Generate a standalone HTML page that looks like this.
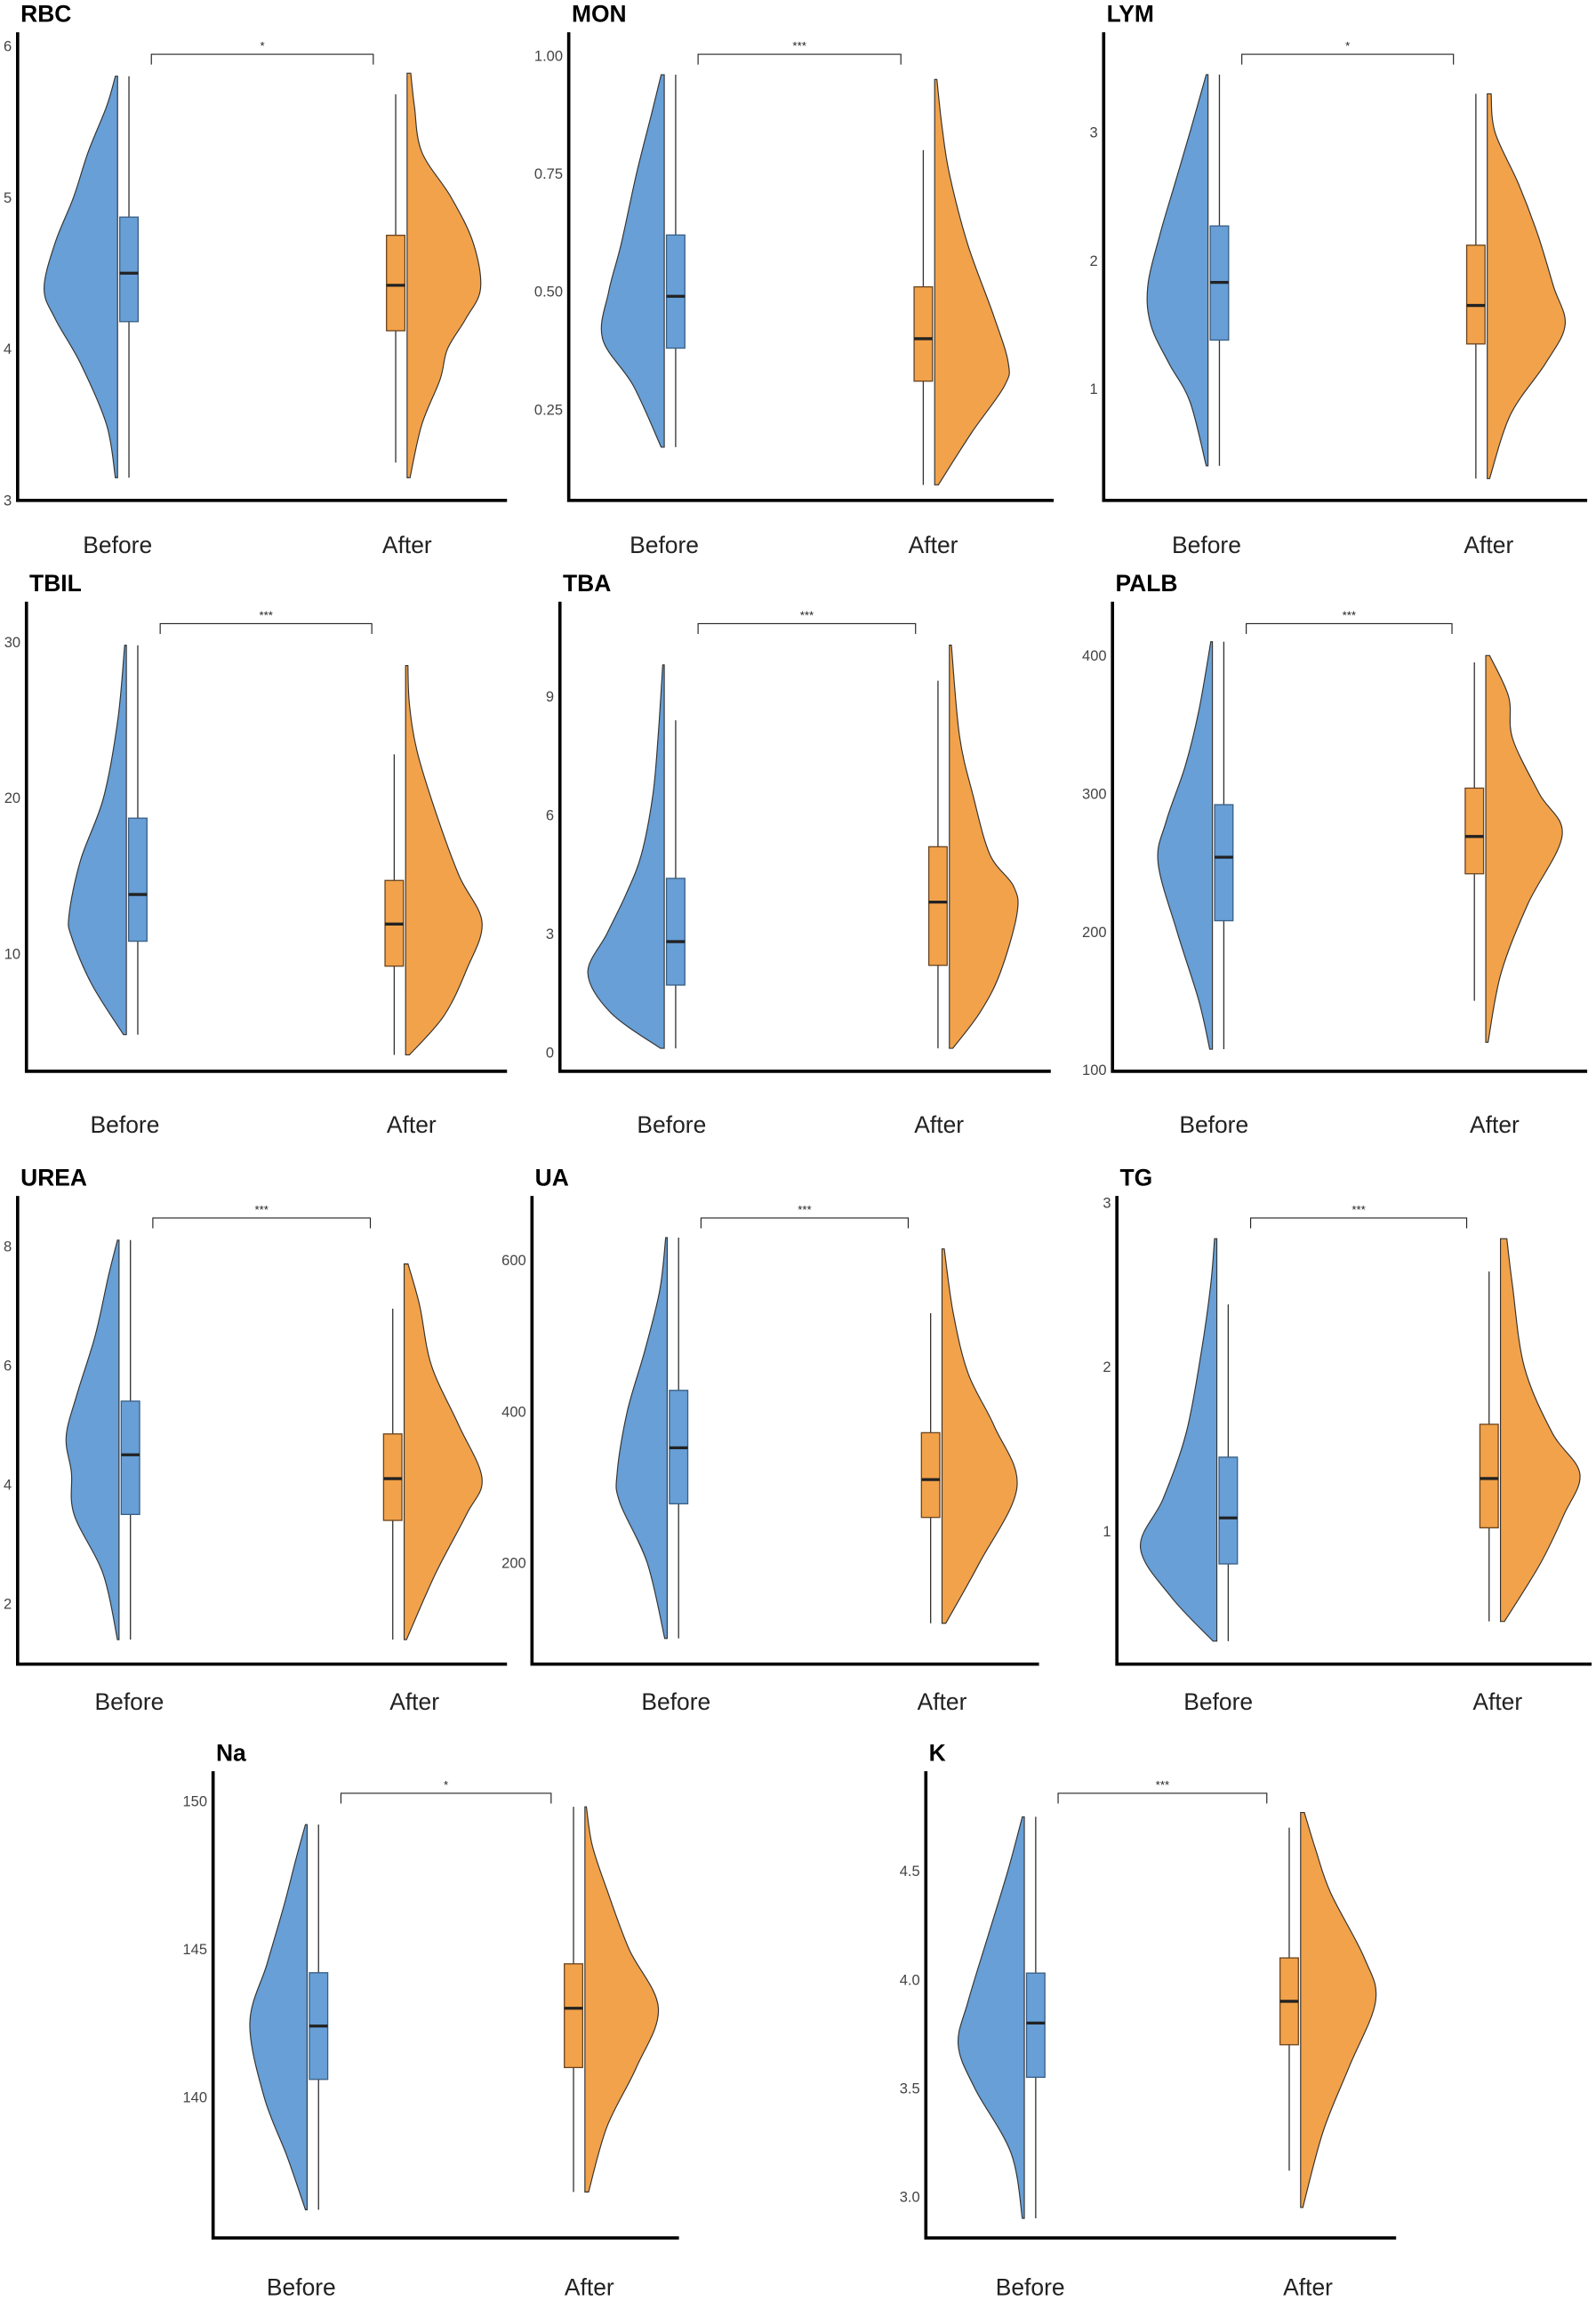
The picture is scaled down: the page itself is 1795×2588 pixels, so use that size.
<!DOCTYPE html>
<html><head><meta charset="utf-8"><style>
html,body{margin:0;padding:0;background:#fff}
svg{display:block;font-family:"Liberation Sans",Arial,sans-serif}
</style></head><body>
<svg id="chart" width="1795" height="2588" viewBox="0 0 1086 1568" preserveAspectRatio="none" xmlns="http://www.w3.org/2000/svg"></svg>
<script>
const titles = ["RBC","MON","LYM","TBIL","TBA","PALB","UREA","UA","TG","Na","K"];
const stars = ["*","***","*","***","***","***","***","***","***","*","***"];
const categories = ["Before","After"];
const domains = [[3,6.09],[0.057,1.05],[0.13,3.78],[2.45,32.6],[-0.48,11.4],[99,439],[0.99,8.84],[66,685],[0.19,3.04],[135.25,151],[2.81,4.96]];
const ticks = [[3,4,5,6],[0.25,0.5,0.75,1.0],[1,2,3],[10,20,30],[0,3,6,9],[100,200,300,400],[2,4,6,8],[200,400,600],[1,2,3],[140,145,150],[3.0,3.5,4.0,4.5]];
const tickLabels = [["3","4","5","6"],["0.25","0.50","0.75","1.00"],["1","2","3"],["10","20","30"],["0","3","6","9"],["100","200","300","400"],["2","4","6","8"],["200","400","600"],["1","2","3"],["140","145","150"],["3.0","3.5","4.0","4.5"]];
// box stats: [whiskerLo, q1, median, q3, whiskerHi]
const boxBefore = [[3.15,4.18,4.5,4.87,5.8],[0.17,0.38,0.49,0.62,0.96],[0.4,1.38,1.83,2.27,3.45],[4.8,10.8,13.8,18.7,29.8],[0.1,1.7,2.8,4.4,8.4],[115,208,254,292,410],[1.4,3.5,4.5,5.4,8.1],[100,278,352,428,630],[0.33,0.8,1.08,1.45,2.38],[136.2,140.6,142.4,144.2,149.2],[2.9,3.55,3.8,4.03,4.75]];
const boxAfter = [[3.25,4.12,4.42,4.75,5.68],[0.09,0.31,0.40,0.51,0.80],[0.3,1.35,1.65,2.12,3.3],[3.5,9.2,11.9,14.7,22.8],[0.1,2.2,3.8,5.2,9.4],[150,242,269,304,395],[1.4,3.4,4.1,4.85,6.95],[120,260,310,372,530],[0.45,1.02,1.32,1.65,2.58],[136.8,141,143,144.5,149.8],[3.12,3.7,3.9,4.1,4.7]];
// density profiles: [value, relative width]
const densBefore = [
 [[3.15,.03],[3.5,.15],[3.9,.5],[4.2,.85],[4.4,1],[4.7,.85],[5.0,.6],[5.3,.4],[5.6,.15],[5.8,.03]],
 [[0.17,.05],[0.3,.5],[0.4,1],[0.5,.9],[0.6,.7],[0.75,.45],[0.88,.2],[0.96,.05]],
 [[0.4,.03],[0.9,.3],[1.2,.65],[1.5,.95],[1.8,1],[2.2,.8],[2.6,.55],[3.0,.3],[3.45,.03]],
 [[4.8,.05],[8,.6],[11,.95],[12.5,1],[16,.8],[20,.4],[25,.15],[29.8,.03]],
 [[0.1,.05],[1,.7],[2,1],[3,.75],[4,.5],[5,.3],[6.5,.15],[8,.08],[9.8,.02]],
 [[115,.05],[150,.25],[200,.65],[250,1],[280,.85],[320,.5],[360,.25],[410,.03]],
 [[1.4,.03],[2.5,.3],[3.5,.85],[4.2,.9],[4.8,1],[5.5,.8],[6.5,.45],[7.5,.2],[8.1,.03]],
 [[100,.05],[200,.4],[280,.95],[320,1],[400,.8],[480,.45],[560,.15],[630,.03]],
 [[0.33,.05],[0.6,.6],[0.9,1],[1.2,.7],[1.6,.4],[2.1,.2],[2.5,.08],[2.78,.03]],
 [[136.2,.03],[138,.35],[140,.75],[142.5,1],[144.5,.7],[146.5,.4],[148,.2],[149.2,.03]],
 [[2.9,.03],[3.2,.2],[3.5,.75],[3.7,1],[3.9,.85],[4.2,.55],[4.5,.25],[4.75,.03]]
];
const densAfter = [
 [[3.15,.04],[3.5,.2],[3.8,.45],[4.0,.55],[4.2,.8],[4.4,1],[4.7,.9],[5.0,.6],[5.3,.2],[5.6,.1],[5.82,.05]],
 [[0.09,.05],[0.2,.5],[0.3,.95],[0.35,1],[0.45,.8],[0.6,.45],[0.75,.2],[0.85,.1],[0.95,.03]],
 [[0.3,.03],[0.8,.3],[1.2,.75],[1.5,1],[1.8,.85],[2.2,.65],[2.6,.4],[3.0,.1],[3.3,.05]],
 [[3.5,.05],[6,.5],[9,.8],[12,1],[15,.7],[19,.4],[23,.15],[26,.05],[28.5,.03]],
 [[0.1,.05],[1,.45],[2,.75],[3.5,1],[4.2,.95],[5,.6],[6.5,.35],[8,.15],[10.3,.03]],
 [[120,.03],[170,.2],[220,.55],[270,1],[300,.7],[340,.35],[370,.3],[400,.05]],
 [[1.4,.03],[2.5,.4],[3.5,.8],[4.1,1],[5,.7],[6,.35],[7,.2],[7.7,.05]],
 [[120,.05],[200,.5],[300,1],[380,.7],[450,.35],[530,.15],[615,.03]],
 [[0.45,.05],[0.8,.5],[1.1,.8],[1.35,1],[1.6,.65],[2.0,.3],[2.5,.15],[2.78,.08]],
 [[136.8,.05],[139,.3],[141,.7],[143,1],[145,.6],[147,.3],[148.5,.1],[149.8,.02]],
 [[2.95,.03],[3.3,.3],[3.6,.65],[3.9,1],[4.1,.85],[4.4,.4],[4.6,.2],[4.77,.05]]
];
// layout (display px): L,R,T,B, centerBefore, centerAfter, halfWidthBefore, halfWidthAfter
const layout = [
 [12,345,22,341,80,277,50,50],[387,717,22,341,452,636,42,50],[751,1080,22,341,822,1012,41,53],
 [18,345,410,730,86,276,39,52],[381,715,410,730,452,646,52,46],[757,1080,410,730,825,1011,37,52],
 [12,345,815,1134,81,275,36,53],[362,707,815,1134,454,641,34,51],[760,1083,815,1134,828,1021,52,54],
 [145,462,1207,1525,209,398,39,50],[630,950,1207,1525,697,885,45,51]
];
// category label placement (display px): beforeX, afterX, baselineOffsetBelowAxis
const labelPlace = [
 [80,277,36],[452,635,36],[821,1013,36],
 [85,280,42],[457,639,42],[826,1017,42],
 [88,282,31],[460,641,31],[829,1019,31],
 [205,401,39],[701,890,39]
];
const NS="http://www.w3.org/2000/svg";
const svg=document.getElementById('chart');
function mk(tag,attrs,parent){const e=document.createElementNS(NS,tag);for(const k in attrs)e.setAttribute(k,attrs[k]);(parent||svg).appendChild(e);return e;}
function smooth(pts){let d="";for(let i=0;i<pts.length-1;i++){const p0=pts[Math.max(0,i-1)],p1=pts[i],p2=pts[i+1],p3=pts[Math.min(pts.length-1,i+2)];
 const c1=[p1[0]+(p2[0]-p0[0])/6,p1[1]+(p2[1]-p0[1])/6],c2=[p2[0]-(p3[0]-p1[0])/6,p2[1]-(p3[1]-p1[1])/6];
 d+=` C${c1[0].toFixed(2)},${c1[1].toFixed(2)} ${c2[0].toFixed(2)},${c2[1].toFixed(2)} ${p2[0].toFixed(2)},${p2[1].toFixed(2)}`;}return d;}
titles.forEach((t,i)=>{
 const [L,R,T,B,cB,cA,hwB,hwA]=layout[i];const [y0,y1]=domains[i];
 const y=v=>B-(v-y0)/(y1-y0)*(B-T);
 const g=mk('g',{});
 
 
 const tt=mk('text',{x:L+2,y:T-7,'font-size':16,'font-weight':'bold',fill:'#000'},g);tt.textContent=t;
 
 
 ticks[i].forEach((v,j)=>{const tx=mk('text',{x:L-4,y:y(v)+3.5,'font-size':10,'text-anchor':'end',fill:'#444'},g);tx.textContent=tickLabels[i][j];
  
  });
 [[0,cB,hwB,-1,densBefore[i],boxBefore[i],'#679fd6','#3a5f85'],[1,cA,hwA,1,densAfter[i],boxAfter[i],'#f2a24a','#6b4520']].forEach(([k,c,hw,dir,dens,bx,fill,stroke])=>{
  const pts=dens.map(([v,w])=>[c+dir*w*hw,y(v)]);
  let d=`M${c},${y(dens[0][0])} L${pts[0][0]},${pts[0][1]}`+smooth(pts)+` L${c},${y(dens[dens.length-1][0])} Z`;
  const vp=mk('path',{d:d,fill:fill,stroke:'#333','stroke-width':0.7},g);
  
  
  const bw=12.5;const bx0=dir<0?c+1.5:c-1.5-bw;const wx=bx0+bw/2;
  const wl=mk('line',{x1:wx,x2:wx,y1:y(bx[0]),y2:y(bx[4]),stroke:'#333','stroke-width':0.8},g);
  
  
  const r=mk('rect',{x:bx0,y:y(bx[3]),width:bw,height:y(bx[1])-y(bx[3]),fill:fill,stroke:stroke,'stroke-width':0.8},g);
  
  
  const m=mk('line',{x1:bx0,x2:bx0+bw,y1:y(bx[2]),y2:y(bx[2]),stroke:'#222','stroke-width':2},g);
  
  
  const lp=labelPlace[i];
  const lx=mk('text',{x:lp[k],y:B+lp[2],'font-size':16,'text-anchor':'middle',fill:'#222'},g);lx.textContent=categories[k];
  
  
 });
 const ax=mk('path',{d:`M${L},${T} L${L},${B} L${R},${B}`,fill:'none',stroke:'#000','stroke-width':2.2},g);
 
 
 const bx1=cB+23,bx2=cA-23,by=T+15;
 const br=mk('path',{d:`M${bx1},${by+7} L${bx1},${by} L${bx2},${by} L${bx2},${by+7}`,fill:'none',stroke:'#222','stroke-width':0.7},g);
 
 
 const st=mk('text',{x:(bx1+bx2)/2,y:by-3,'font-size':8,'text-anchor':'middle',fill:'#222'},g);st.textContent=stars[i];
 
 
});
</script>
</body></html>
